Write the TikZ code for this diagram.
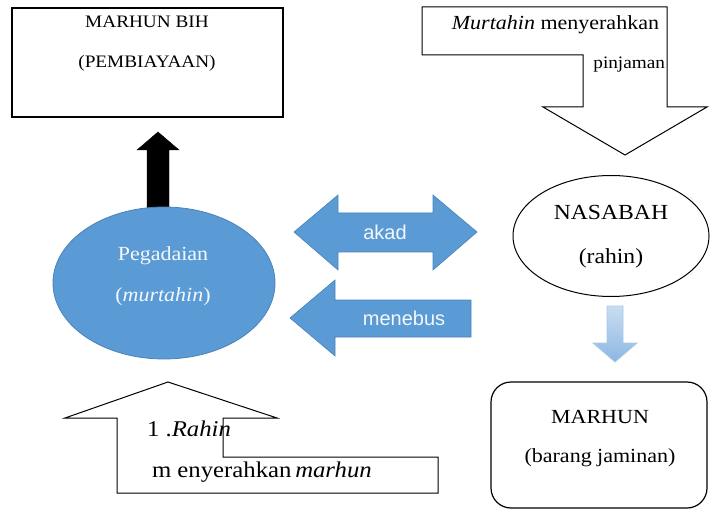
\documentclass[tikz,border=0pt]{standalone}
\usepackage{fontspec}
\setmainfont{Liberation Serif}[FakeStretch=1.1]
\newfontfamily\sansf{Liberation Sans}
\usetikzlibrary{shapes.geometric}
\definecolor{blu}{HTML}{5B9BD5}
\definecolor{bluedge}{HTML}{4A82B8}
\definecolor{lbluA}{HTML}{C9DDF2}
\definecolor{lbluB}{HTML}{8DB6E2}
\definecolor{lbluE}{HTML}{A9C9EA}
\definecolor{txtwhite}{HTML}{F4F7FB}
\begin{document}
\begin{tikzpicture}[x=1pt,y=-1pt,
  outline/.style={draw=black,line width=1.2pt},
  blockarrow/.style={draw=black,line width=1pt,fill=white,line join=miter},
  bluearrow/.style={draw=bluedge,line width=0.6pt,fill=blu},
  lbl/.style={inner sep=0pt,outer sep=0pt},
  fsA/.style={font=\fontsize{17.5}{20}\selectfont},
  fsB/.style={font=\fontsize{20}{23}\selectfont},
  fsC/.style={font=\fontsize{21.5}{24}\selectfont},
  fsD/.style={font=\fontsize{22.5}{25}\selectfont},
  fsS/.style={font=\sansf\fontsize{20}{23}\selectfont,text=txtwhite}]
\useasboundingbox (0,0) rectangle (711,510);

% top-left box
\node[outline,line width=1.5pt,minimum width=271pt,minimum height=109pt,inner sep=0pt,outer sep=0pt] (bih) at (147.5,62.5) {};
\node[lbl,fsA] (bihA) at (147,22) {MARHUN BIH};
\node[lbl,fsA] (bihB) at (147,63) {(PEMBIAYAAN)};

% black arrow
\draw[fill=black,draw=black] (147,210) -- (147,150) -- (137,150) -- (158,132) -- (179,150) -- (169,150) -- (169,210) -- cycle;

% Pegadaian ellipse
\node[ellipse,fill=blu,draw=bluedge,line width=0.8pt,minimum width=222pt,minimum height=152pt,inner sep=0pt] (peg) at (164,283) {};
\node[lbl,fsB,text=txtwhite] (pegA) at (163,256) {Pegadaian};
\node[lbl,fsB,text=txtwhite] (pegB) at (163,297) {(\textit{murtahin})};

% akad double arrow
\draw[bluearrow] (294,232) -- (338,195) -- (338,213) -- (433,213) -- (433,195) -- (477,232) -- (433,270) -- (433,252) -- (338,252) -- (338,270) -- cycle;
\node[lbl,fsS] (akad) at (385,232) {akad};

% menebus arrow
\draw[bluearrow] (290,318) -- (335,280) -- (335,300) -- (471,300) -- (471,337) -- (335,337) -- (335,356) -- cycle;
\node[lbl,fsS] (menebus) at (404,318) {menebus};

% top-right bent arrow
\draw[blockarrow] (422,7) -- (667,7) -- (667,107) -- (707,107) -- (625,155) -- (543,107) -- (583,107) -- (583,55) -- (422,55) -- cycle;
\node[lbl,fsB,anchor=east] (murt) at (659,25) {\textit{Murtahin} menyerahkan};
\node[lbl,fsA,anchor=east] (pinj) at (665,65) {pinjaman};

% Nasabah ellipse
\node[ellipse,draw=black,line width=1pt,fill=white,minimum width=196pt,minimum height=121pt,inner sep=0pt] (nas) at (611,236) {};
\node[lbl,fsC] (nasA) at (611,212) {NASABAH};
\node[lbl,fsC] (nasB) at (611,258) {(rahin)};

% light blue down arrow
\shade[top color=lbluA,bottom color=lbluB,draw=lbluE,line width=0.8pt] (607,306) -- (623,306) -- (623,343) -- (637,343) -- (615,362) -- (593,343) -- (607,343) -- cycle;

% Marhun rounded box
\node[draw=black,line width=1.2pt,rounded corners=20pt,minimum width=216pt,minimum height=126pt,inner sep=0pt,outer sep=0pt] (marhun) at (599,445) {};
\node[lbl,fsB] (marA) at (600,417) {MARHUN};
\node[lbl,fsB] (marB) at (600,458) {(barang jaminan)};

% bottom bent arrow
\draw[blockarrow] (168,382) -- (277,418) -- (223,418) -- (223,457) -- (438,457) -- (438,493) -- (117,493) -- (117,418) -- (65,418) -- cycle;
\node[lbl,fsD,anchor=west] (rah) at (147,429) {1 .\textit{Rahin}};
\node[lbl,fsD,anchor=west] (meny) at (152,472) {m enyerahkan\,\textit{marhun}};
\end{tikzpicture}
\end{document}
